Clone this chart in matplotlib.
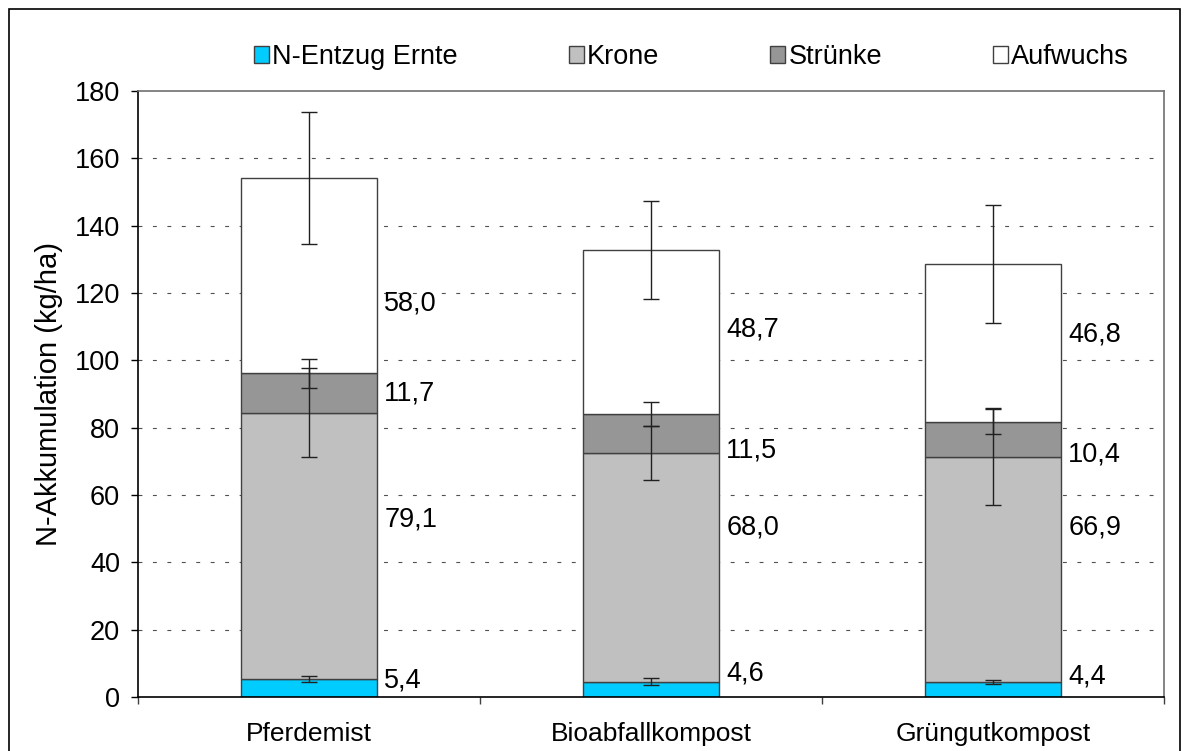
import matplotlib
matplotlib.use("Agg")
import matplotlib.pyplot as plt
from matplotlib.patches import Patch, Rectangle
import numpy as np

plt.rcParams['font.family'] = ['Liberation Sans', 'DejaVu Sans']

categories = ['Pferdemist', 'Bioabfallkompost', 'Grüngutkompost']
series_names = ['N-Entzug Ernte', 'Krone', 'Strünke', 'Aufwuchs']
n_entzug = [5.4, 4.6, 4.4]
krone = [79.1, 68.0, 66.9]
struenke = [11.7, 11.5, 10.4]
aufwuchs = [58.0, 48.7, 46.8]

err_n = [0.8, 0.9, 0.6]
err_krone = [13.2, 8.0, 14.4]
err_struenke = [4.3, 3.6, 3.7]
err_aufwuchs = [19.5, 14.6, 17.5]

# label vertical positions (data units) for value annotations
label_y = [
    [4.8, 52.6, 90.0, 117.0],
    [7.1, 50.2, 73.1, 109.3],
    [6.2, 50.2, 71.9, 107.8],
]

colors = ['#00CCFF', '#C0C0C0', '#969696', '#FFFFFF']
yticks = [0, 20, 40, 60, 80, 100, 120, 140, 160, 180]

FS = 19

fig = plt.figure(figsize=(11.88, 7.51), dpi=100)
ax = fig.add_axes([138/1188, 1-697/751, (1164-138)/1188, (697-91)/751])

x = np.arange(len(categories))
width = 0.4
series = [n_entzug, krone, struenke, aufwuchs]
errs = [err_n, err_krone, err_struenke, err_aufwuchs]

for yv in yticks[1:-1]:
    ax.axhline(yv, color='#505050', lw=0.8, dashes=(3.5, 9.5), zorder=0)

bottom = np.zeros(len(categories))
tops = []
for vals, col in zip(series, colors):
    vals = np.array(vals)
    ax.bar(x, vals, width, bottom=bottom, color=col, edgecolor='#404040',
           linewidth=1.0, zorder=2)
    bottom = bottom + vals
    tops.append(bottom.copy())

for top, e in zip(tops, errs):
    ax.errorbar(x, top, yerr=e, fmt='none', ecolor='#202020', elinewidth=1.0,
                capsize=5.6, capthick=1.0, zorder=3)

for i in range(len(categories)):
    for j, vals in enumerate(series):
        ax.annotate(f"{vals[i]:.1f}".replace('.', ','),
                    xy=(x[i] + width/2, label_y[i][j]), xytext=(5, 0),
                    textcoords='offset points', ha='left', va='center',
                    fontsize=FS + 0.5)

ax.set_xlim(-0.5, 2.5)
ax.set_ylim(0, 180)
ax.set_yticks(yticks)
ax.set_yticklabels([str(v) for v in yticks], fontsize=FS + 0.5)
ax.tick_params(axis='y', direction='out', length=5, width=1, pad=8)
ax.set_xticks(x)
ax.set_xticklabels(categories, fontsize=FS)
ax.tick_params(axis='x', which='major', length=0, pad=18)
ax.set_xticks([-0.5, 0.5, 1.5, 2.5], minor=True)
ax.tick_params(axis='x', which='minor', length=5, width=1, color='#404040')

ax.set_ylabel('N-Akkumulation (kg/ha)', fontsize=21, labelpad=8)

for s in ['left', 'bottom']:
    ax.spines[s].set_color('black')
    ax.spines[s].set_linewidth(1.2)
for s in ['top', 'right']:
    ax.spines[s].set_color('#707070')
    ax.spines[s].set_linewidth(1.2)

handles = [Patch(facecolor=c, edgecolor='#404040', lw=1) for c in colors]
fig.legend(handles, series_names, loc='center', bbox_to_anchor=(0.582, 1-57/751),
           ncol=4, frameon=False, fontsize=FS + 0.5, handlelength=0.55, handleheight=0.55,
           handletextpad=0.12, columnspacing=4.1)

fig.patches.append(Rectangle((9/1188, -0.02), (1180-9)/1188, (751-9)/751 + 0.02,
                             transform=fig.transFigure, fill=False,
                             edgecolor='black', lw=1.2, zorder=10))

fig.savefig('out.png', dpi=100)
